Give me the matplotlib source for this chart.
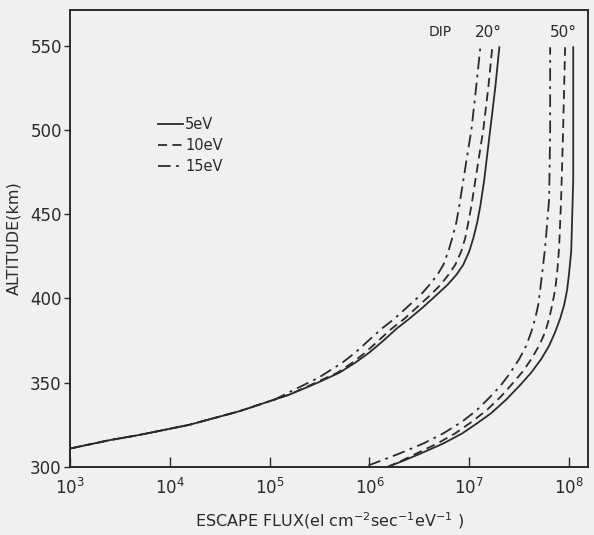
import matplotlib
matplotlib.use("Agg")
import matplotlib.pyplot as plt
from matplotlib.lines import Line2D

# altitude (km) vs escape flux (el cm^-2 sec^-1 eV^-1)
# dip 20 deg
ALT_20_5 = [311, 316, 319, 325, 333, 343, 350, 356, 362, 368, 375, 382, 388, 395, 402, 408, 414,
            420, 428, 436, 445, 455, 470, 485, 500, 525, 549]
FLUX_20_5 = [1.0e3, 2.51e3, 4.9e3, 1.55e4, 4.9e4, 1.58e5, 3.02e5, 5.0e5, 7.24e5, 1.0e6, 1.38e6,
             1.86e6, 2.51e6, 3.47e6, 4.68e6, 6.03e6, 7.41e6, 8.71e6, 1.0e7, 1.1e7, 1.2e7, 1.29e7,
             1.41e7, 1.51e7, 1.62e7, 1.82e7, 2.0e7]
ALT_20_10 = [311, 316, 319, 325, 333, 343, 350, 356, 362, 368, 375, 382, 388, 395, 402, 408, 414,
             420, 428, 436, 445, 455, 470, 485, 500, 525, 549]
FLUX_20_10 = [1.0e3, 2.51e3, 4.9e3, 1.55e4, 4.9e4, 1.58e5, 2.88e5, 4.79e5, 6.76e5, 9.12e5, 1.23e6,
              1.66e6, 2.24e6, 3.02e6, 4.07e6, 5.13e6, 6.17e6, 7.24e6, 8.32e6, 9.12e6, 9.77e6,
              1.05e7, 1.15e7, 1.26e7, 1.38e7, 1.55e7, 1.7e7]
ALT_20_15 = [311, 316, 319, 325, 333, 340, 346, 353, 362, 368, 375, 382, 388, 395, 402, 408, 414,
             420, 428, 436, 445, 455, 470, 485, 500, 525, 549]
FLUX_20_15 = [1.0e3, 2.51e3, 4.9e3, 1.55e4, 4.9e4, 1.12e5, 1.78e5, 3.09e5, 5.37e5, 7.24e5, 9.77e5,
              1.32e6, 1.78e6, 2.4e6, 3.24e6, 3.98e6, 4.79e6, 5.5e6, 6.17e6, 6.76e6, 7.41e6,
              7.94e6, 8.71e6, 9.55e6, 1.05e7, 1.17e7, 1.29e7]
# dip 50 deg
ALT_50_5 = [300, 304, 308, 314, 320, 326, 332, 340, 348, 356, 364, 372, 380, 388, 396, 405, 415,
            428, 445, 470, 549]
FLUX_50_5 = [1.51e6, 2.24e6, 3.24e6, 5.5e6, 8.51e6, 1.2e7, 1.66e7, 2.34e7, 3.16e7, 4.17e7, 5.25e7,
             6.31e7, 7.24e7, 8.13e7, 8.91e7, 9.55e7, 1.0e8, 1.05e8, 1.07e8, 1.1e8, 1.1e8]
ALT_50_10 = [300, 304, 308, 314, 320, 327, 334, 342, 350, 357, 364, 372, 380, 388, 396, 405, 415,
             430, 459, 500, 549]
FLUX_50_10 = [1.51e6, 2.14e6, 2.95e6, 4.79e6, 7.24e6, 1.07e7, 1.51e7, 2.09e7, 2.75e7, 3.47e7,
              4.17e7, 5.01e7, 5.75e7, 6.31e7, 6.76e7, 7.24e7, 7.59e7, 7.94e7, 8.32e7, 8.71e7, 9.12e7]
ALT_50_15 = [301, 305, 309, 314, 320, 327, 334, 341, 348, 355, 364, 372, 380, 388, 396, 405, 415,
             430, 459, 500, 549]
FLUX_50_15 = [9.77e5, 1.48e6, 2.19e6, 3.47e6, 5.5e6, 8.51e6, 1.2e7, 1.58e7, 2.04e7, 2.51e7, 3.16e7,
              3.72e7, 4.17e7, 4.57e7, 4.9e7, 5.13e7, 5.37e7, 5.75e7, 6.31e7, 6.46e7, 6.46e7]

LABELS = ["5eV", "10eV", "15eV"]
INK = "#2a2a2a"
STYLES = [dict(ls="-"), dict(ls=(0, (5, 3))), dict(ls=(0, (7, 3, 1.5, 3)))]


def main():
    fig = plt.figure(figsize=(5.94, 5.35), dpi=100, facecolor="#f0f0ee")
    ax = fig.add_axes([0.118, 0.127, 0.872, 0.854])
    ax.set_facecolor("#f0f0ee")

    curves20 = [(ALT_20_5, FLUX_20_5), (ALT_20_10, FLUX_20_10), (ALT_20_15, FLUX_20_15)]
    curves50 = [(ALT_50_5, FLUX_50_5), (ALT_50_10, FLUX_50_10), (ALT_50_15, FLUX_50_15)]
    for (alt, flux), st in zip(curves20, STYLES):
        ax.plot(flux, alt, color=INK, lw=1.3, **st)
    for (alt, flux), st in zip(curves50, STYLES):
        ax.plot(flux, alt, color=INK, lw=1.3, **st)

    ax.set_xscale("log")
    ax.set_xlim(1e3, 10 ** 8.19)
    ax.set_ylim(300, 571)
    ax.set_xticks([1e3, 1e4, 1e5, 1e6, 1e7, 1e8])
    ax.set_yticks([300, 350, 400, 450, 500, 550])
    ax.minorticks_off()
    ax.tick_params(axis="x", direction="in", length=7, width=1, pad=8, labelsize=12, colors=INK)
    ax.tick_params(axis="y", direction="out", length=4, width=1, pad=2, labelsize=12, colors=INK)
    for sp in ax.spines.values():
        sp.set_linewidth(1.4)
        sp.set_color(INK)

    ax.set_ylabel("ALTITUDE(km)", fontsize=11.5, color=INK, labelpad=6)
    ax.set_xlabel(r"ESCAPE FLUX(el cm$^{-2}$sec$^{-1}$eV$^{-1}$ )", fontsize=11.5, color=INK, labelpad=9)

    ax.text(10 ** 6.71, 558, "DIP", fontsize=10, color=INK, ha="center", va="center")
    ax.text(10 ** 7.19, 558, "20°", fontsize=11, color=INK, ha="center", va="center")
    ax.text(10 ** 7.94, 558, "50°", fontsize=11, color=INK, ha="center", va="center")

    handles = [Line2D([], [], color=INK, lw=1.3, **st) for st in STYLES]
    ax.legend(handles, LABELS, loc="upper left", bbox_to_anchor=(0.145, 0.795), frameon=False,
              fontsize=10.5, handlelength=1.7, handletextpad=0.15, labelspacing=0.4,
              labelcolor=INK)

    fig.savefig("out.png", dpi=100, facecolor=fig.get_facecolor())


if __name__ == "__main__":
    main()
